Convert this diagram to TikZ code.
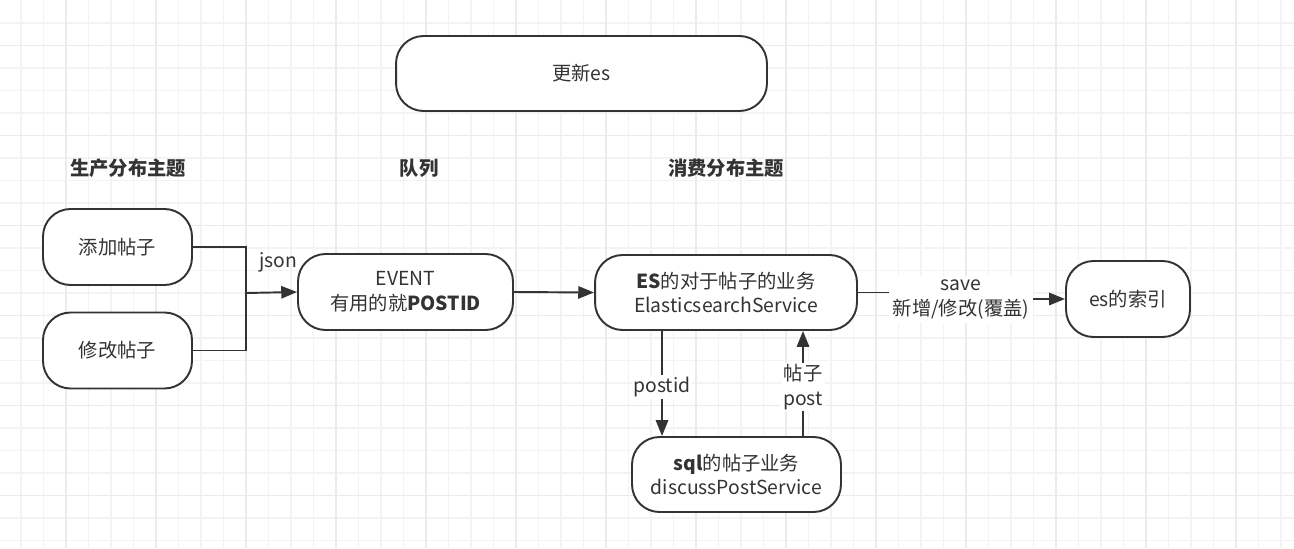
\documentclass[tikz,border=0pt]{standalone}
\usepackage{fontspec}
\setmainfont{Noto Sans CJK SC}
\usetikzlibrary{arrows.meta}
\definecolor{line}{HTML}{333333}
\definecolor{txt}{HTML}{333333}
\definecolor{gridthin}{HTML}{F3F3F3}
\definecolor{gridthick}{HTML}{EBEBEB}

\begin{document}
\begin{tikzpicture}[x=0.02cm,y=-0.02cm,
		font=\fontsize{11pt}{14pt}\selectfont,
		box/.style={draw=line,line width=1.1pt,rounded corners=0.55cm,fill=white,align=center,text=txt,inner sep=0pt},
		lbl/.style={fill=white,align=center,text=txt,inner sep=1pt,yshift=-2pt},
		head/.style={font=\fontsize{11pt}{14pt}\selectfont\bfseries,text=txt},
		conn/.style={draw=line,line width=1.1pt},
		arr/.style={conn,-{Triangle[length=9pt,width=7pt]}}]
		\useasboundingbox (0,0) rectangle (1294,548);
		% grid
		\foreach \x in {21,43.5,...,1294} \draw[gridthin,line width=0.6pt] (\x,0) -- (\x,548);
		\foreach \y in {23,45.5,...,548} \draw[gridthin,line width=0.6pt] (0,\y) -- (1294,\y);
		\foreach \x in {66,156,...,1294} \draw[gridthick,line width=0.6pt] (\x,0) -- (\x,548);
		\foreach \y in {45.5,135.5,...,548} \draw[gridthick,line width=0.6pt] (0,\y) -- (1294,\y);

		\node[box,minimum width=7.42cm,minimum height=1.5cm] (upd) at (581.5,73.5) {更新es};
		\node[head] (prod) at (128,168) {生产分布主题};
		\node[head] (queue) at (419,168) {队列};
		\node[head] (cons) at (726,168) {消费分布主题};

		\node[box,minimum width=2.98cm,minimum height=1.52cm] (add) at (117.5,247) {添加帖子};
		\node[box,minimum width=2.98cm,minimum height=1.52cm] (edit) at (117.5,350.5) {修改帖子};
		\node[box,minimum width=4.3cm,minimum height=1.52cm] (event) at (405.5,292) {EVENT\\有用的就\textbf{POSTID}};
		\node[box,minimum width=5.24cm,minimum height=1.5cm] (es) at (726,292.5) {\textbf{ES}的对于帖子的业务\\ElasticsearchService};
		\node[box,minimum width=2.48cm,minimum height=1.52cm] (idx) at (1128,299) {es的索引};
		\node[box,minimum width=4.18cm,minimum height=1.5cm] (sql) at (736.5,474.5) {\textbf{sql}的帖子业务\\discussPostService};

		\coordinate (join) at (246,293);
		\draw[conn] (add.east) -| (join);
		\draw[conn] (edit.east) -| (join);
		\draw[arr] (join) -- (event.west);
		\node[text=txt] (json) at (278,262) {json};
		\draw[arr] (event.east) -- (es.west);

		\coordinate (pid) at (662,0);
		\coordinate (pst) at (803,0);
		\draw[arr] (es.south -| pid) -- node[lbl] (pidlbl) {postid} (sql.north -| pid);
		\draw[arr] (sql.north -| pst) -- node[lbl] (pstlbl) {帖子\\post} (es.south -| pst);

		\coordinate (mid) at (961,296);
		\draw[arr] (es.east) -| (mid) |- (idx.west);
		\node[lbl,inner sep=2pt] (save) at (mid) {save\\新增/修改(覆盖)};
	\end{tikzpicture}
\end{document}
